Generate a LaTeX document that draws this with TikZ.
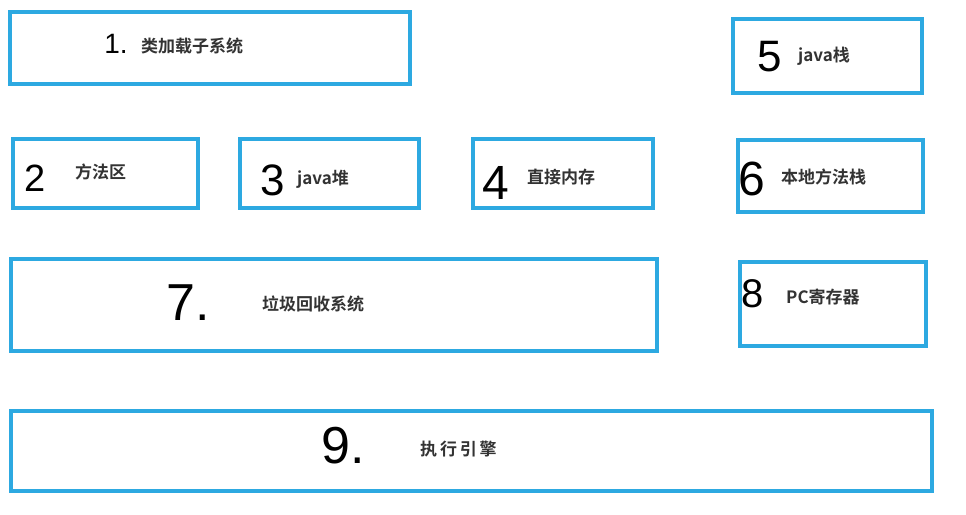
\documentclass[tikz,border=0pt]{standalone}
\usepackage{fontspec}
\setmainfont{Liberation Sans}
\newfontfamily\cjk{Noto Sans CJK SC}[BoldFont={* Bold}]
\definecolor{boxblue}{HTML}{2DA9E1}
\begin{document}
\begin{tikzpicture}[x=1pt,y=-1pt,
  blk/.style={draw=boxblue,line width=3.2pt,fill=white,inner sep=0pt},
  lab/.style={font=\cjk\bfseries\fontsize{17}{17}\selectfont,inner sep=0pt,anchor=west,text=black!80},
  num/.style={font=\fontsize{#1}{#1}\selectfont,inner sep=0pt,text=black},
  num/.default=40]
\useasboundingbox[fill=white] (0,0) rectangle (966,514);
% boxes
\node[blk,minimum width=400,minimum height=72] (b1) at (210,48) {};
\node[blk,minimum width=189,minimum height=74] (b5) at (827.5,56) {};
\node[blk,minimum width=185,minimum height=69] (b2) at (105.5,173.5) {};
\node[blk,minimum width=179,minimum height=69] (b3) at (329.5,173.5) {};
\node[blk,minimum width=180,minimum height=69] (b4) at (563,173.5) {};
\node[blk,minimum width=185,minimum height=72] (b6) at (830.5,176) {};
\node[blk,minimum width=646,minimum height=92] (b7) at (334,305) {};
\node[blk,minimum width=186,minimum height=84] (b8) at (833,304) {};
\node[blk,minimum width=921,minimum height=80] (b9) at (471.5,451) {};
% numbers
\node[num=28] (n1) at (116,44) {1.};
\node[num=44] (n5) at (770,57) {5};
\node[num=38] (n2) at (35,178) {2};
\node[num=44] (n3) at (273,180) {3};
\node[num=48] (n4) at (496,183) {4};
\node[num=48] (n6) at (752,179) {6};
\node[num=52] (n7) at (188,303) {7.};
\node[num=40] (n8) at (753,294) {8};
\node[num=52] (n9) at (343,446) {9.};
% labels
\node[lab] (t1) at (141,46) {类加载子系统};
\node[lab] (t5) at (798,56) {java栈};
\node[lab] (t2) at (75,172) {方法区};
\node[lab] (t3) at (297,179) {java堆};
\node[lab] (t4) at (527,177) {直接内存};
\node[lab] (t6) at (781,177) {本地方法栈};
\node[lab] (t7) at (262,304) {垃圾回收系统};
\node[lab] (t8) at (786,297) {PC寄存器};
\node[lab] (t9) at (420,449) {执\,行\,引\,擎};
\end{tikzpicture}
\end{document}
